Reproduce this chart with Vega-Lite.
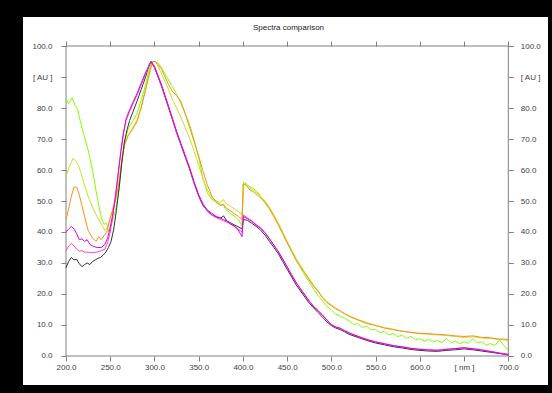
{
  "$schema": "https://vega.github.io/schema/vega-lite/v6.json",
  "autosize": "none",
  "width": 527,
  "height": 370,
  "padding": {"left": 22, "top": 16, "right": 3, "bottom": 7},
  "background": "black",
  "config": {
    "view": {"fill": "white", "stroke": "black", "strokeWidth": 2},
    "font": "Liberation Sans",
    "axis": {
      "domain": false,
      "grid": false,
      "tickColor": "#808080",
      "tickSize": 5,
      "tickWidth": 1,
      "labelFont": "Liberation Sans",
      "labelFontSize": 8,
      "labelColor": "#404040",
      "title": null
    }
  },
  "title": {
    "text": "Spectra comparison",
    "fontSize": 8,
    "fontWeight": "normal",
    "font": "Liberation Sans",
    "color": "#202020",
    "anchor": "middle",
    "frame": "group",
    "offset": -16,
    "dx": 3
  },
  "layer": [
    {
      "data": {"values": [{}]},
      "mark": {"type": "rect", "fill": "transparent", "stroke": "#808080", "strokeWidth": 1},
      "encoding": {
        "x": {
          "datum": 200,
          "type": "quantitative",
          "scale": {"domain": [150.26, 746.0], "nice": false, "zero": false},
          "axis": {
            "orient": "bottom",
            "offset": -30,
            "values": [200, 250, 300, 350, 400, 450, 500, 550, 600, 650, 700],
            "labelPadding": 2,
            "labelExpr": "datum.value == 650 ? '[ nm ]' : format(datum.value, '.1f')"
          }
        },
        "x2": {"datum": 700},
        "y": {
          "datum": 0,
          "type": "quantitative",
          "scale": {"domain": [-9.68, 109.68], "nice": false, "zero": false},
          "axis": {
            "orient": "left",
            "offset": -44,
            "values": [0, 10, 20, 30, 40, 50, 60, 70, 80, 90, 100],
            "labelPadding": 9,
            "labelExpr": "datum.value == 90 ? '[ AU ]' : format(datum.value, '.1f')"
          }
        },
        "y2": {"datum": 100}
      }
    },
    {
      "data": {
        "values": [
          {"s": "Sample 1",
           "nm": [200,203,207,210,213,216,220,225,230,235,240,243,246,248,250,253,256,260,263,266,270,275,280,285,290,295,298,301,304,308,312,316,320,325,330,335,340,345,350,355,360,365,370,375,378,380,385,390,395,399,400.5,404,408,412,416,420,425,430,435,440,445,450,455,460,465,470,475,480,485,490,495,500,505,510,515,520,525,530,535,540,545,550,555,560,565,570,575,580,585,590,595,600,605,610,615,620,625,630,635,640,645,650,655,660,665,670,675,680,685,690,695,700],
           "v": [83.1,81.5,83.3,81,79.5,76,71.5,66.5,60,51.5,44.5,42.5,42.8,40,41.5,44,47,54,62,69,73,75.5,78,82.5,87.5,93.5,95,95,94.5,93,91,89,87,84.5,81.5,78,74.5,69.5,64,57,52.5,50.5,49.8,48.8,48.7,47.5,46.2,45.2,44,42,56,55.5,54.5,54,53,51.5,49.5,47.5,45,42.3,39.5,36.5,33.8,31,28.5,26,23.8,21.5,19.5,17.8,16,14.8,13.5,12.8,12.2,11.3,10.2,10.4,9.2,9.6,8.4,8.6,7.5,8,6.8,7.3,6.2,6.8,5.7,6.3,5.2,5.6,4.7,5.4,4.5,5,4.3,5.6,4.2,4.8,3.9,4.6,4.1,5.7,4.2,4.6,3.5,4,3.4,5.2,3.4,1.8]},
          {"s": "Sample 2",
           "nm": [200,203,206,208,211,214,217,220,225,230,235,240,244,247,250,253,256,260,263,266,270,275,280,285,290,295,298,301,304,308,312,316,320,325,330,335,340,345,350,355,360,365,370,375,378,380,385,390,395,399,400.5,404,408,412,416,420,425,430,435,440,445,450,455,460,465,470,475,480,485,490,495,500,505,510,515,520,530,540,550,560,570,580,590,600,610,620,630,640,650,660,670,680,690,695,700],
           "v": [57.8,60.5,62.5,63.8,63,61.5,59,56,51.5,48,45,42.5,40.5,41.5,44.5,47,50,56,63,68,71,73.5,76,80.5,86,92,95,95,93.5,91,88.5,86,83,80,77,73.5,70,66,61.5,57,53.5,51,50,49.5,50.5,49.5,48.5,47.5,46.5,45.5,55.5,55.2,54,53.5,52.5,51.5,50,48,45.5,43,40,37,34.2,31.5,29.2,27,25,22.8,21,19,17.5,16.5,15.5,14.6,13.7,13,11.8,10.8,9.9,9.2,8.6,8,7.6,7.2,7,6.8,6.6,6.3,6,6.2,5.8,5.6,5.4,5.2,5]},
          {"s": "Sample 3",
           "nm": [200,203,206,209,212,215,218,221,225,230,234,237,240,243,246,250,253,256,260,263,266,270,275,280,285,290,295,298,301,304,308,312,316,320,325,330,335,340,345,350,355,360,365,370,375,378,380,385,390,395,399,400.5,404,408,412,416,420,425,430,435,440,445,450,455,460,465,470,475,480,485,490,495,500,505,510,515,520,530,540,550,560,570,580,590,600,610,620,630,640,650,660,670,680,690,695,700],
           "v": [43.9,47.5,51.5,54.5,54.5,52,48.5,45,40.5,38,37,38.5,37.5,38.8,40,44.5,47.5,50.5,56,63,68,71,73,75.5,80,86,92,95,95,94,92.5,90,87.5,85.5,84,82,78,73.5,69,64.5,59.5,55,51.5,49.5,48.5,49,48,47,46,45,44,55.5,55,53.5,53,52,51,49.5,47.5,45,42.3,39.5,36.5,33.8,31,28.8,26.7,24.5,22.4,20.8,18.8,17.2,16.2,15.2,14.5,13.6,12.8,11.6,10.5,9.8,9,8.5,8,7.6,7.3,7.2,7,6.8,6.5,6.3,6.5,6,5.9,5.4,5.5,5.2]},
          {"s": "Sample 4",
           "nm": [200,203,206,209,212,215,218,221,224,227,230,233,236,239,242,245,248,251,254,257,260,263,266,269,272,276,280,285,290,294,296,300,304,308,312,316,320,325,330,335,340,345,350,355,360,365,370,375,378,382,386,390,394,399,400.5,405,410,415,420,425,430,435,440,445,450,455,460,465,470,475,480,485,490,495,500,505,510,515,520,530,540,550,560,570,580,590,600,610,620,630,640,650,660,670,680,690,700],
           "v": [28.5,30.5,31.8,31,31.2,29.8,28.8,29.5,30,29.5,30.5,31,31.5,31.8,32.5,33.5,35,37,41,47,54,62,69,73,76,79,82,86,90,94,95,93,90,87,83.5,80,76.5,72,68,64,60,55.5,51.5,48.5,46.8,45.5,44.8,44.5,45.2,43.5,43,42.3,41.8,41,44,43.8,42.8,41.8,40.6,39,37,35,33,30.5,28,25.5,23,21,19,17,15.5,14,12.5,11,9.8,9,8.5,7.8,7,6,5,4.2,3.6,3,2.6,2.1,1.8,1.6,1.5,1.8,2,2.3,2,1.6,1.2,0.8,0.4]},
          {"s": "Sample 5",
           "nm": [200,203,206,209,212,215,218,221,225,230,235,240,244,247,250,253,256,259,262,265,268,272,276,280,285,290,294,296,300,304,308,312,316,320,325,330,335,340,345,350,355,360,365,370,375,378,382,386,390,394,399,400.5,405,410,415,420,425,430,435,440,445,450,455,460,465,470,475,480,485,490,495,500,505,510,515,520,530,540,550,560,570,580,590,600,610,620,630,640,650,660,670,680,690,700],
           "v": [34,35.5,36.3,35.5,34.5,33.8,34,33.5,33.5,33.3,33.5,34,34.5,36.5,40,45,51.5,58.5,66,72,76,79,81.5,84,87.5,91,93.8,95,93.2,90.3,87.3,83.8,80.3,76.8,72.3,68.3,64.3,60.3,55.8,51.8,48.8,46.6,45.4,44.6,44,43.6,43.2,42.6,41.8,41,40,45.5,44.6,43.6,42.4,41.4,39.8,37.8,35.8,33.8,31.3,28.8,26.3,23.8,21.8,19.8,17.8,16,14.7,13.2,11.7,10.2,9.4,9,8.2,7.5,6.4,5.4,4.6,4,3.4,3,2.5,2.2,2,1.9,2.2,2.4,2.7,2.4,2,1.5,1,0.6]},
          {"s": "Sample 6",
           "nm": [200,203,206,209,212,215,218,221,224,227,230,235,240,244,247,250,253,256,259,262,265,268,272,276,280,285,290,294,296,300,304,308,312,316,320,325,330,335,340,345,350,355,360,365,370,375,378,382,386,390,394,399,400.5,405,410,415,420,425,430,435,440,445,450,455,460,465,470,475,480,485,490,495,500,505,510,515,520,530,540,550,560,570,580,590,600,610,620,630,640,650,660,670,680,690,700],
           "v": [40,41,41.8,41,39.5,37.5,37.8,37,37.5,36,35.5,35,35,36,38,41.5,46,52,59,66,72,76.5,79.5,82,84.5,88,91.5,93.5,95,93.5,90.5,87.5,84,80.5,77,72.5,68.5,64.5,60.5,56,52,49,47,46,45,44.5,44,43.5,42.5,42,41,38.5,45,44.3,43.4,42.2,41.2,39.7,37.8,35.7,33.6,31.2,28.7,26.2,23.7,21.6,19.6,17.6,15.9,14.6,13.1,11.6,10,9.3,8.9,8.1,7.4,6.3,5.3,4.5,3.9,3.3,2.9,2.4,2.1,1.9,1.8,2.1,2.4,2.6,2.3,1.9,1.4,0.9,0.3]}
        ]
      },
      "transform": [{"flatten": ["nm", "v"]}],
      "mark": {"type": "line", "strokeWidth": 1},
      "encoding": {
        "x": {
          "field": "nm",
          "type": "quantitative",
          "axis": {
            "orient": "top",
            "offset": -30,
            "values": [200, 250, 300, 350, 400, 450, 500, 550, 600, 650, 700],
            "labels": false
          }
        },
        "y": {
          "field": "v",
          "type": "quantitative",
          "axis": {
            "orient": "right",
            "offset": -40.7,
            "values": [0, 10, 20, 30, 40, 50, 60, 70, 80, 90, 100],
            "labelPadding": 7,
            "labelExpr": "datum.value == 90 ? '[ AU ]' : format(datum.value, '.1f')"
          }
        },
        "color": {
          "field": "s",
          "type": "nominal",
          "scale": {
            "domain": ["Sample 1", "Sample 2", "Sample 3", "Sample 4", "Sample 5", "Sample 6"],
            "range": ["#80ff00", "#c8e020", "#ff8c1a", "#333333", "#ff40c8", "#e000e8"]
          },
          "legend": null
        },
        "order": {"field": "nm", "type": "quantitative"}
      }
    }
  ],
  "resolve": {"axis": {"x": "independent", "y": "independent"}}
}
